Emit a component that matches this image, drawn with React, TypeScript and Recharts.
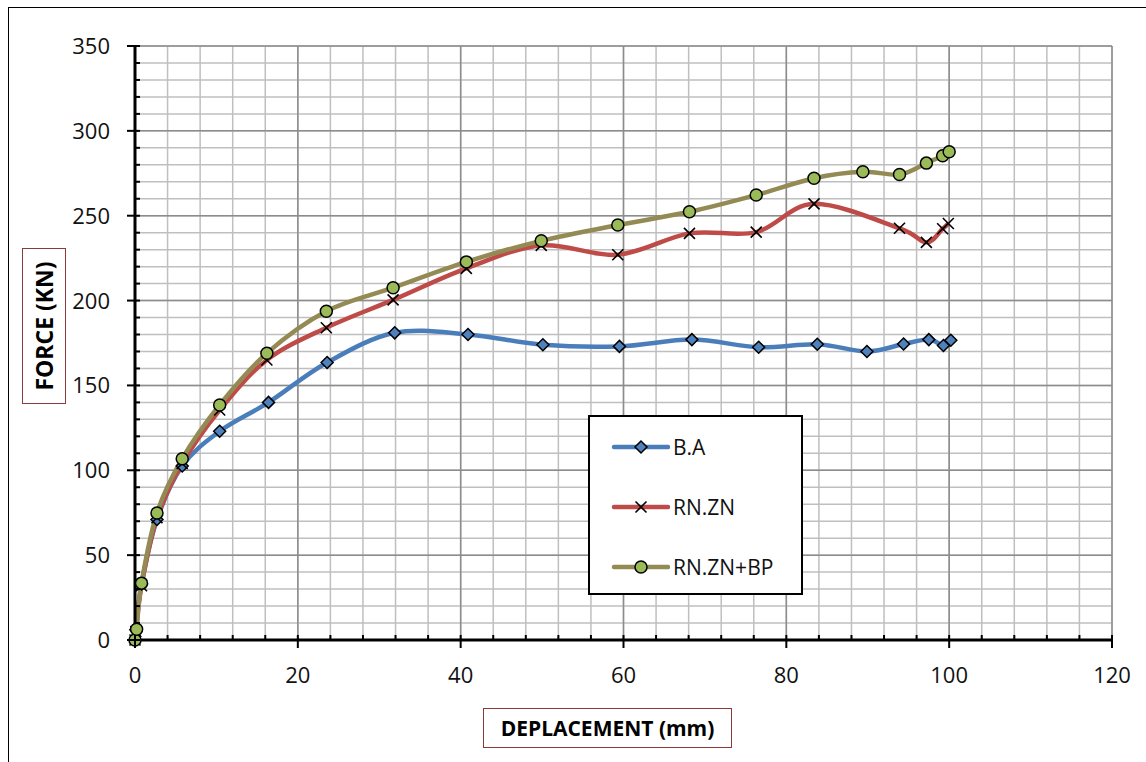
import React from "react";
import { LineChart, Line, XAxis, YAxis, CartesianGrid, Legend } from "recharts";

// B.A
const baDepl = [0, 0.1, 0.8, 2.7, 5.8, 10.4, 16.4, 23.6, 31.9, 40.9, 50.1, 59.5, 68.4, 76.6, 83.8, 89.9, 94.4, 97.5, 99.3, 100.2];
const baForce = [0, 6, 33, 71, 102.5, 123, 140, 163.5, 181, 180, 174, 173, 177, 172.5, 174.3, 170, 174.4, 177, 173.5, 176.6];

// RN.ZN
const rnDepl = [0, 0.1, 0.8, 2.7, 5.8, 10.4, 16.2, 23.5, 31.7, 40.7, 49.9, 59.3, 68.1, 76.3, 83.4, 93.9, 97.2, 99.2, 99.9];
const rnForce = [0, 5, 32, 72, 104, 135.5, 165, 184, 200.4, 219, 232.5, 227, 239.6, 240.3, 257, 242.6, 234.3, 242.3, 245.4];

// RN.ZN+BP
const bpDepl = [0, 0.2, 0.8, 2.7, 5.8, 10.4, 16.2, 23.5, 31.7, 40.7, 49.9, 59.3, 68.1, 76.3, 83.4, 89.4, 93.9, 97.2, 99.2, 100];
const bpForce = [0, 6.3, 33.5, 74.8, 106.8, 138.5, 169, 193.7, 207.6, 222.8, 235.2, 244.5, 252.3, 262.2, 272.1, 275.9, 274.3, 281, 285.3, 287.7];

const xMajor = [0, 20, 40, 60, 80, 100, 120];
const yMajor = [0, 50, 100, 150, 200, 250, 300, 350];
const xMinor = Array.from({ length: 31 }, (_, i) => i * 4);
const yMinor = Array.from({ length: 36 }, (_, i) => i * 10);

const FONT = "'Open Sans', 'Liberation Sans', sans-serif";

const toRows = (xs: number[], ys: number[]) => xs.map((x, i) => ({ x, y: ys[i] }));

// excel style smoothed line (bezier, 1/6 control points)
function excelSmooth(context: any) {
  let pts: number[][] = [];
  return {
    areaStart() {},
    areaEnd() {},
    lineStart() {
      pts = [];
    },
    point(x: number, y: number) {
      pts.push([+x, +y]);
    },
    lineEnd() {
      const n = pts.length;
      if (!n) return;
      context.moveTo(pts[0][0], pts[0][1]);
      for (let i = 0; i < n - 1; i++) {
        const p0 = pts[Math.max(i - 1, 0)];
        const p1 = pts[i];
        const p2 = pts[i + 1];
        const p3 = pts[Math.min(i + 2, n - 1)];
        context.bezierCurveTo(
          p1[0] + (p2[0] - p0[0]) / 6,
          p1[1] + (p2[1] - p0[1]) / 6,
          p2[0] - (p3[0] - p1[0]) / 6,
          p2[1] - (p3[1] - p1[1]) / 6,
          p2[0],
          p2[1]
        );
      }
    },
  };
}

function Marker({ kind, cx, cy }: { kind: string; cx: number; cy: number }) {
  if (kind === "diamond") {
    const s = 6;
    return (
      <path
        d={`M${cx},${cy - s}L${cx + s},${cy}L${cx},${cy + s}L${cx - s},${cy}Z`}
        fill="#4F81BD"
        stroke="#000"
        strokeWidth={1.5}
      />
    );
  }
  if (kind === "cross") {
    const s = 5.5;
    return (
      <path
        d={`M${cx - s},${cy - s}L${cx + s},${cy + s}M${cx - s},${cy + s}L${cx + s},${cy - s}`}
        stroke="#000"
        strokeWidth={1.6}
        fill="none"
      />
    );
  }
  return <circle cx={cx} cy={cy} r={6} fill="#9BBB59" stroke="#000" strokeWidth={1.5} />;
}

const series = [
  { name: "B.A", data: toRows(baDepl, baForce), color: "#4A7EBB", marker: "diamond" },
  { name: "RN.ZN", data: toRows(rnDepl, rnForce), color: "#BE4B48", marker: "cross" },
  { name: "RN.ZN+BP", data: toRows(bpDepl, bpForce), color: "#948A54", marker: "circle" },
];

const Y_MARGIN = 25;

function YTick(props: any) {
  const { x, y, payload } = props;
  const ax = x + Y_MARGIN;
  const major = payload.value % 50 === 0;
  return (
    <g>
      {major ? (
        <line x1={ax - 8} x2={ax + 5} y1={y} y2={y} stroke="#000" strokeWidth={2} />
      ) : (
        <line x1={ax} x2={ax + 5} y1={y} y2={y} stroke="#000" strokeWidth={2} />
      )}
      {major && (
        <text x={x} y={y + 8} textAnchor="end" fontSize={22} fontFamily={FONT} fill="#111">
          {payload.value}
        </text>
      )}
    </g>
  );
}

function XTick(props: any) {
  const { x, y, payload } = props;
  const major = payload.value % 20 === 0;
  return (
    <g>
      {major ? (
        <line x1={x} x2={x} y1={y - 5} y2={y + 8} stroke="#000" strokeWidth={2} />
      ) : (
        <line x1={x} x2={x} y1={y - 5} y2={y} stroke="#000" strokeWidth={2} />
      )}
      {major && (
        <text x={x} y={y + 43} textAnchor="middle" fontSize={22} fontFamily={FONT} fill="#111">
          {payload.value}
        </text>
      )}
    </g>
  );
}

function LegendBox() {
  return (
    <div
      style={{
        width: 215,
        height: 180,
        boxSizing: "border-box",
        border: "2px solid #000",
        background: "#fff",
        position: "relative",
        fontFamily: FONT,
      }}
    >
      {series.map((s, i) => (
        <div key={s.name} style={{ position: "absolute", left: 0, top: 12 + i * 60, height: 36, width: 215 }}>
          <svg width={60} height={36} style={{ position: "absolute", left: 20, top: 0 }}>
            <line x1={4} x2={58} y1={18} y2={18} stroke={s.color} strokeWidth={4.5} strokeLinecap="round" />
            <Marker kind={s.marker} cx={31} cy={18} />
          </svg>
          <span style={{ position: "absolute", left: 83, top: 3, fontSize: 21, color: "#111", lineHeight: "30px" }}>
            {s.name}
          </span>
        </div>
      ))}
    </div>
  );
}

export default function App() {
  return (
    <div
      style={{
        position: "absolute",
        left: 0,
        top: 0,
        width: 1146,
        height: 762,
        background: "#fff",
        overflow: "hidden",
        fontFamily: FONT,
      }}
    >
      <div
        style={{
          position: "absolute",
          left: 8,
          top: 7,
          width: 1200,
          height: 800,
          border: "1.5px solid #000",
        }}
      />
      <LineChart width={1146} height={762} margin={{ top: 46, right: 34, bottom: 0, left: 0 }}>
        <CartesianGrid verticalValues={xMinor} horizontalValues={yMinor} stroke="#BFBFBF" strokeWidth={1.5} />
        <CartesianGrid verticalValues={xMajor} horizontalValues={yMajor} stroke="#8C8C8C" strokeWidth={1.5} />
        <XAxis
          dataKey="x"
          type="number"
          domain={[0, 120]}
          ticks={xMinor}
          interval={0}
          height={122}
          tickSize={0}
          tickMargin={0}
          tick={<XTick />}
          axisLine={{ stroke: "#000", strokeWidth: 3 }}
        />
        <XAxis
          xAxisId="top"
          orientation="top"
          type="number"
          domain={[0, 120]}
          height={0}
          tick={false}
          tickLine={false}
          axisLine={{ stroke: "#000", strokeWidth: 3 }}
        />
        <YAxis
          type="number"
          domain={[0, 350]}
          ticks={yMinor}
          interval={0}
          width={135}
          tickSize={0}
          tickMargin={Y_MARGIN}
          tick={<YTick />}
          axisLine={{ stroke: "#000", strokeWidth: 3 }}
        />
        <YAxis
          yAxisId="right"
          orientation="right"
          type="number"
          domain={[0, 350]}
          width={0}
          tick={false}
          tickLine={false}
          axisLine={{ stroke: "#000", strokeWidth: 3 }}
        />
        {series.map((s) => (
          <Line
            key={s.name}
            name={s.name}
            data={s.data}
            dataKey="y"
            type={excelSmooth as any}
            stroke={s.color}
            strokeWidth={4.5}
            isAnimationActive={false}
            activeDot={false}
            dot={(p: any) => (
              <Marker key={`${s.name}-${p.index}`} kind={s.marker} cx={p.cx} cy={p.cy} />
            )}
          />
        ))}
        <Legend
          layout="vertical"
          align="center"
          verticalAlign="middle"
          content={() => <LegendBox />}
          wrapperStyle={{ left: 588, top: 415, width: 215, height: 180 }}
        />
      </LineChart>
      <div
        style={{
          position: "absolute",
          left: 22,
          top: 248,
          width: 44,
          height: 156,
          boxSizing: "border-box",
          border: "1.5px solid #8B3A3A",
          background: "#fff",
        }}
      >
        <div
          style={{
            position: "absolute",
            left: "50%",
            top: "50%",
            transform: "translate(-50%, -50%) rotate(-90deg)",
            whiteSpace: "nowrap",
            fontWeight: 700,
            fontSize: 23,
            color: "#000",
          }}
        >
          FORCE (KN)
        </div>
      </div>
      <div
        style={{
          position: "absolute",
          left: 483,
          top: 708,
          width: 249,
          height: 40,
          boxSizing: "border-box",
          border: "1.5px solid #8B3A3A",
          background: "#fff",
          display: "flex",
          alignItems: "center",
          justifyContent: "center",
          whiteSpace: "nowrap",
          fontWeight: 700,
          fontSize: 21,
          color: "#000",
        }}
      >
        DEPLACEMENT (mm)
      </div>
    </div>
  );
}
